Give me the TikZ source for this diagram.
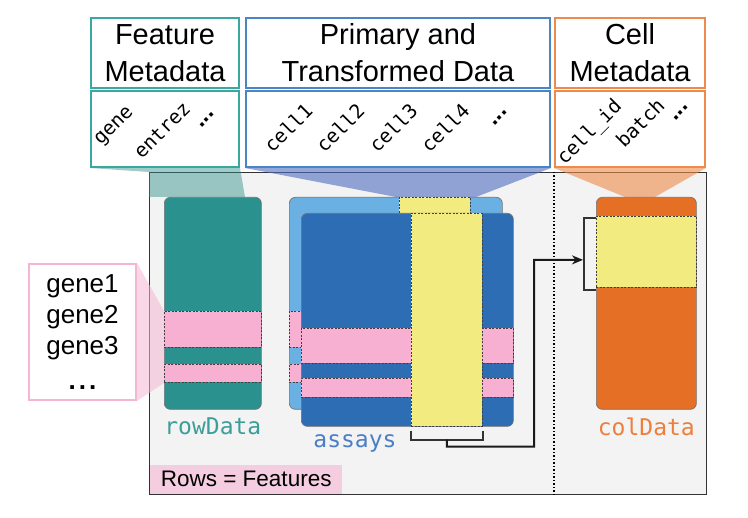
\documentclass[tikz,border=0pt]{standalone}
\usepackage{fontspec}
\setmainfont{Liberation Sans}
\setmonofont{DejaVu Sans Mono}
\usetikzlibrary{positioning,arrows.meta}

\definecolor{framegray}{HTML}{F3F3F3}
\definecolor{featline}{HTML}{3AA8A0}
\definecolor{featfun}{HTML}{2A8E88}
\definecolor{primline}{HTML}{4A86C6}
\definecolor{primfun}{HTML}{4F6DBE}
\definecolor{cellline}{HTML}{EF8B4A}
\definecolor{geneline}{HTML}{F4B6D2}
\definecolor{rowteal}{HTML}{2A918E}
\definecolor{backblue}{HTML}{6BB0E3}
\definecolor{frontblue}{HTML}{2C6DB4}
\definecolor{colorange}{HTML}{E56F25}
\definecolor{bandpink}{HTML}{F7B0D2}
\definecolor{bandyellow}{HTML}{F1EB80}
\definecolor{rowspink}{HTML}{F5CDE1}
\definecolor{rowtext}{HTML}{3A9E99}
\definecolor{assaytext}{HTML}{4A7EC6}
\definecolor{coltext}{HTML}{EE7E3A}

\begin{document}
\begin{tikzpicture}[x=1pt,y=-1pt]

  \tikzset{head box/.style={rectangle, draw=#1, line width=2pt, fill=white,
  		inner sep=0pt, anchor=north west, align=center,
  		font=\fontsize{29}{37}\selectfont}, }
  \tikzset{data box/.style={rectangle, rounded corners=6pt, draw=black!55,
  		line width=0.7pt, inner sep=0pt, anchor=north west, fill=#1}, }
  \tikzset{band/.style={rectangle, draw=black!75, dash pattern=on 2pt off 1.5pt,
  		line width=0.7pt, inner sep=0pt, anchor=north west, fill=#1}, }
  \tikzset{col label/.style={rotate=45, inner sep=0pt, font=\fontsize{19.5}{19.5}\ttfamily}, }
  \tikzset{more label/.style={rotate=45, inner sep=0pt, font=\fontsize{24}{24}\bfseries}, }
  \tikzset{slot label/.style={font=\fontsize{23}{23}\ttfamily, text=#1}, }
  \tikzset{funnel/.style={fill=#1, fill opacity=0.5, draw=none}, }
  \tikzset{linea/.style={-{Stealth[length=11pt,width=9pt]}, line width=2pt, black!90}, }
  \tikzset{bracket/.style={line width=2pt, black!80}, }

\useasboundingbox (0,0) rectangle (748,518);

% frame and divider
\node[rectangle, draw=black!80, fill=framegray, line width=1pt, inner sep=0pt,
  anchor=north west, minimum width=557, minimum height=322] (frame) at (149,172) {};
\draw[dotted, line width=1.5pt] ([xshift=405pt]frame.north west) -- ([xshift=405pt]frame.south west);
\node[fill=rowspink, anchor=south west, inner sep=0pt, minimum width=192, minimum height=29,
  font=\fontsize{22.5}{22.5}\selectfont] (rowsfeat) at ([xshift=1pt,yshift=1pt]frame.south west) {Rows = Features};

% header boxes
\node[head box=featline, minimum width=148, minimum height=70] (feat) at (90,17) {Feature\\Metadata};
\node[head box=featline, minimum width=148, minimum height=76] (featcols) at (90,90) {};
\node[head box=primline, minimum width=304, minimum height=70] (prim) at (245,17) {Primary and\\Transformed Data};
\node[head box=primline, minimum width=304, minimum height=76] (primcols) at (245,90) {};
\node[head box=cellline, minimum width=150, minimum height=70] (cellmeta) at (554,17) {Cell\\Metadata};
\node[head box=cellline, minimum width=150, minimum height=76] (cellcols) at (554,90) {};

\node[col label] (gene) at (115,127) {gene};
\node[col label] (entrez) at (162,130) {entrez};
\node[more label] (fdots) at (207,120) {...};
\node[col label] (cell1) at (288,128) {cell1};
\node[col label] (cell2) at (340,128) {cell2};
\node[col label] (cell3) at (393,128) {cell3};
\node[col label] (cell4) at (445,128) {cell4};
\node[more label] (pdots) at (500,118) {...};
\node[col label] (cellid) at (590,133) {cell\_id};
\node[col label] (batch) at (640,123) {batch};
\node[more label] (cdots) at (681,113) {...};

% gene list
\node[rectangle, draw=geneline, line width=2pt, fill=white, inner sep=0pt, anchor=north west,
  minimum width=107, minimum height=136, align=center,
  font=\fontsize{26}{31}\selectfont] (genes) at (28,263) {gene1\\gene2\\gene3\\[4pt]\textbf{.\hspace{3pt}.\hspace{3pt}.}};

% funnels
\fill[funnel=featfun, fill opacity=0.45] (featcols.south west) -- (featcols.south east) -- (245,197) -- (149,197) -- (149,172) -- cycle;
\fill[funnel=primfun, fill opacity=0.6] (primcols.south west) -- (primcols.south east) -- (476,197) -- (396,197) -- cycle;
\fill[funnel=cellline, fill opacity=0.6] (cellcols.south west) -- (cellcols.south east) -- (655,197) -- (625,197) -- cycle;
\fill[funnel=geneline, fill opacity=0.55] (genes.north east) -- (164,311) -- (164,383) -- (genes.south east) -- cycle;

% rowData
\node[data box=rowteal, minimum width=97, minimum height=212] (rowdata) at (164,197) {};
\node[band=bandpink, minimum width=97, minimum height=36] (rowband1) at (164,311) {};
\node[band=bandpink, minimum width=97, minimum height=18] (rowband2) at (164,364) {};
\node[slot label=rowtext, below=5pt of rowdata] (rowname) {rowData};

% assays
\node[data box=backblue, minimum width=213, minimum height=212] (assayback) at (289,197) {};
\node[band=bandpink, minimum width=213, minimum height=36] (backband1) at (289,311) {};
\node[band=bandpink, minimum width=213, minimum height=18] (backband2) at (289,364) {};
\node[band=bandyellow, minimum width=71, minimum height=212] (backcol) at (399,197) {};
\node[data box=frontblue, minimum width=212, minimum height=213] (assayfront) at (301,213) {};
\node[band=bandpink, minimum width=212, minimum height=35] (frontband1) at (301,328) {};
\node[band=bandpink, minimum width=212, minimum height=19] (frontband2) at (301,378) {};
\node[band=bandyellow, minimum width=71, minimum height=213] (frontcol) at (411,213) {};
\node[slot label=assaytext] (assayname) at (355,443) {assays};

% colData
\node[data box=colorange, minimum width=100, minimum height=212] (coldata) at (596,197) {};
\node[band=bandyellow, minimum width=100, minimum height=71] (colband) at (596,216) {};
\node[slot label=coltext, below=5pt of coldata] (colname) {colData};

% brackets and arrow
\coordinate (stem) at ([yshift=-13pt]frontcol.south);
\coordinate (tip) at ([xshift=-13pt,yshift=-8pt]colband.west);
\draw[bracket] ([yshift=-4pt]frontcol.south west) -- ([yshift=-13pt]frontcol.south west)
  -- ([yshift=-13pt]frontcol.south east) -- ([yshift=-4pt]frontcol.south east);
\draw[bracket] ([yshift=-2pt]colband.north west) -- ([xshift=-12pt,yshift=-2pt]colband.north west)
  -- ([xshift=-12pt,yshift=-2pt]colband.south west) -- ([yshift=-2pt]colband.south west);
\draw[linea] (stem) -- ++(0,7) -| (534,260) -- (tip);
%%
\end{tikzpicture}
\end{document}
